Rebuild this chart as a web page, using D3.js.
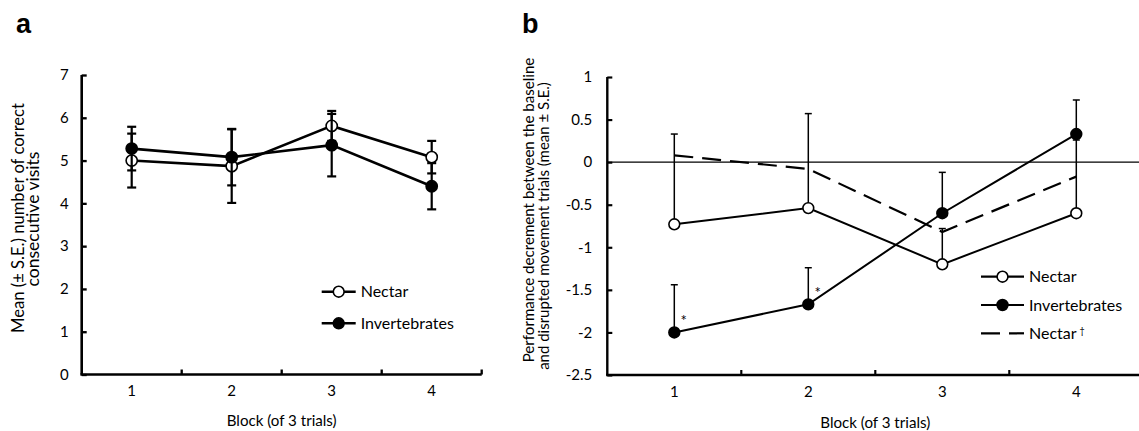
<!DOCTYPE html>
<html><head><meta charset="utf-8">
<script src="https://cdn.jsdelivr.net/npm/d3@7"></script>
<style>
body{margin:0;background:#fff;}
svg text{font-family:Lato,"Open Sans",sans-serif;fill:#000;}
</style></head>
<body><svg id="c" width="1139" height="431"></svg>
<script>
// ---------- data ----------
const blocks = ["1", "2", "3", "4"];
// panel a
const yTicksA = [0, 1, 2, 3, 4, 5, 6, 7];
const nectarA = [5.00, 4.87, 5.81, 5.08];
const nectarA_se = [0.63, 0.86, 0.35, 0.38];
const invertA = [5.28, 5.08, 5.36, 4.40];
const invertA_se = [0.51, 0.66, 0.73, 0.54];
// panel b
const yTicksB = [1, 0.5, 0, -0.5, -1, -1.5, -2, -2.5];
const nectarB = [-0.73, -0.54, -1.20, -0.60];
const nectarB_se = [1.06, 1.11, 0.42, 0.86];
const invertB = [-2.00, -1.67, -0.60, 0.33];
const invertB_se = [0.56, 0.43, 0.48, 0.40];
const nectarDagger = [0.08, -0.08, -0.82, -0.17];
const signif = [true, true, false, false];

const svg = d3.select("#c");
const fits = [];

function fitText(sel, target) {
  sel.attr("data-fs0", parseFloat(sel.style("font-size")));
  fits.push([sel, target]);
  doFit(sel, target);
}
function doFit(sel, target) {
  const fs0 = +sel.attr("data-fs0");
  sel.style("font-size", fs0 + "px");
  const len = sel.node().getComputedTextLength();
  if (len > 0) sel.style("font-size", (fs0 * target / len) + "px");
}

function panel(cfg) {
  const g = svg.append("g");
  const x = d3.scaleBand().domain(blocks).range([cfg.x0, cfg.x1]);
  const y = d3.scaleLinear().domain(cfg.ydom).range([cfg.yb, cfg.yt]);
  const cx = d => x(d) + x.bandwidth() / 2;

  // y axis
  const ya = d3.axisLeft(y).tickValues(cfg.yticks).tickSize(-5).tickPadding(cfg.tpad)
    .tickFormat(d => String(d));
  const yg = g.append("g").attr("transform", `translate(${cfg.x0},0)`).call(ya);
  yg.select(".domain").attr("stroke-width", cfg.axw).attr("d", `M0,${cfg.yt}V${cfg.yb}`);
  yg.selectAll(".tick line").attr("stroke-width", cfg.axw * 0.9);
  yg.selectAll(".tick text").style("font-size", cfg.fs + "px");

  // x axis labels
  const xa = d3.axisBottom(x).tickSize(0).tickPadding(cfg.xpad);
  const xg = g.append("g").attr("transform", `translate(0,${cfg.yb})`).call(xa);
  xg.select(".domain").remove();
  xg.selectAll(".tick text").style("font-size", cfg.fs + "px");
  // x axis line
  g.append("line").attr("x1", cfg.x0 - cfg.axw / 2).attr("x2", cfg.x1)
    .attr("y1", cfg.yb).attr("y2", cfg.yb).attr("stroke", "#000").attr("stroke-width", cfg.axw);
  // boundary ticks (inward)
  g.selectAll(".bt").data(blocks).enter().append("line")
    .attr("x1", (d, i) => cfg.x0 + (i + 1) * x.step()).attr("x2", (d, i) => cfg.x0 + (i + 1) * x.step())
    .attr("y1", cfg.yb).attr("y2", cfg.yb - 5).attr("stroke", "#000").attr("stroke-width", cfg.axw * 0.9);

  // zero line
  if (cfg.zero) {
    g.append("line").attr("x1", cfg.x0).attr("x2", cfg.x1).attr("y1", y(0)).attr("y2", y(0))
      .attr("stroke", "#000").attr("stroke-width", 1.3);
  }

  // titles
  const xt = g.append("text").attr("x", (cfg.x0 + cfg.x0 + 4 * x.step()) / 2).attr("y", cfg.xtitleY)
    .attr("text-anchor", "middle").style("font-size", cfg.fs + "px").text("Block (of 3 trials)");
  fitText(xt, 110);
  cfg.ytitle.forEach((t, i) => {
    const tt = g.append("text").attr("transform", `translate(${cfg.ytitleX[i]},${cfg.ytitleY[i]}) rotate(-90)`)
      .attr("text-anchor", "middle").style("font-size", "15px").text(t);
    fitText(tt, cfg.ytitleW[i]);
  });

  g.append("text").attr("x", cfg.labX).attr("y", 33).text(cfg.label)
    .style("font-family", "'Liberation Sans',Arial,sans-serif").style("font-weight", "bold").style("font-size", "27px");

  return { g, x, y, cx };
}

function series(p, vals, se, opt) {
  const { g, y, cx } = p;
  const line = d3.line().x((d, i) => cx(blocks[i])).y(d => y(d));
  if (se) {
    const eb = g.append("g");
    vals.forEach((v, i) => {
      const xx = cx(blocks[i]);
      const top = y(v + se[i]);
      const bot = opt.both ? y(v - se[i]) : y(v);
      eb.append("line").attr("x1", xx).attr("x2", xx).attr("y1", top).attr("y2", bot)
        .attr("stroke", "#000").attr("stroke-width", opt.ebw);
      eb.append("line").attr("x1", xx - opt.cap).attr("x2", xx + opt.cap).attr("y1", top).attr("y2", top)
        .attr("stroke", "#000").attr("stroke-width", opt.ebw);
      if (opt.both) {
        eb.append("line").attr("x1", xx - opt.cap).attr("x2", xx + opt.cap).attr("y1", bot).attr("y2", bot)
          .attr("stroke", "#000").attr("stroke-width", opt.ebw);
      }
    });
  }
  g.append("path").datum(vals).attr("d", line).attr("fill", "none").attr("stroke", "#000")
    .attr("stroke-width", opt.lw).attr("stroke-dasharray", opt.dash || null);
  if (opt.marker) {
    g.selectAll(null).data(vals).enter().append("circle")
      .attr("cx", (d, i) => cx(blocks[i])).attr("cy", d => y(d)).attr("r", opt.r)
      .attr("fill", opt.marker === "open" ? "#fff" : "#000").attr("stroke", "#000").attr("stroke-width", 1.6);
  }
}

function legend(g, items, lx, ly0, dy, fs, lw, r) {
  items.forEach((it, i) => {
    const yy = ly0 + i * dy;
    const w = it.w || 43;
    const lg = g.append("g");
    if (it.dash) {
      lg.append("line").attr("x1", lx).attr("x2", lx + w).attr("y1", yy).attr("y2", yy)
        .attr("stroke", "#000").attr("stroke-width", lw).attr("stroke-dasharray", "19,9");
    } else {
      lg.append("line").attr("x1", lx).attr("x2", lx + w).attr("y1", yy).attr("y2", yy)
        .attr("stroke", "#000").attr("stroke-width", lw);
      lg.append("circle").attr("cx", lx + w / 2).attr("cy", yy).attr("r", r)
        .attr("fill", it.marker === "open" ? "#fff" : "#000").attr("stroke", "#000").attr("stroke-width", 1.6);
    }
    const t = lg.append("text").attr("x", lx + w + 5).attr("y", yy).attr("dy", "0.35em")
      .style("font-size", fs + "px").text(it.name);
    if (it.sup) t.append("tspan").attr("dy", "-0.6em").attr("dx", "3").style("font-size", "9px").text(it.sup);
  });
}

// ---------- panel a ----------
const pa = panel({
  x0: 81.7, x1: 481.7, yb: 374.5, yt: 75, ydom: [0, 7], yticks: yTicksA,
  axw: 2.6, fs: 15, tpad: 13, xpad: 11, xtitleY: 426, label: "a", labX: 16,
  ytitle: ["Mean (\u00b1 S.E.) number of correct", "consecutive visits"],
  ytitleW: [230, 135], ytitleX: [24, 38.5], ytitleY: [218, 219]
});
series(pa, nectarA, nectarA_se, { both: true, ebw: 2.2, cap: 4.5, lw: 2.6, marker: "open", r: 5.6 });
series(pa, invertA, invertA_se, { both: true, ebw: 2.2, cap: 4.5, lw: 2.6, marker: "filled", r: 5.6 });
legend(pa.g, [{ name: "Nectar", marker: "open", w: 34 }, { name: "Invertebrates", marker: "filled", w: 34 }],
  321.7, 291.7, 31.6, 16, 2.6, 5.4);

// ---------- panel b ----------
const pb = panel({
  x0: 607.3, x1: 1143.3, yb: 375, yt: 77, ydom: [-2.5, 1], yticks: yTicksB,
  axw: 2.4, fs: 15, tpad: 15, xpad: 11, xtitleY: 428, label: "b", labX: 522, zero: true,
  ytitle: ["Performance decrement between the baseline", "and disrupted movement trials (mean \u00b1 S.E.)"],
  ytitleW: [305, 288], ytitleX: [534, 549], ytitleY: [210, 226]
});
series(pb, nectarDagger, null, { lw: 2.2, dash: "19,9" });
series(pb, nectarB, nectarB_se, { both: false, ebw: 1.5, cap: 3.5, lw: 2.0, marker: "open", r: 5.4 });
series(pb, invertB, invertB_se, { both: false, ebw: 1.5, cap: 3.5, lw: 2.0, marker: "filled", r: 5.4 });
// significance asterisks
pb.g.selectAll(".ast").data(invertB.map((v, i) => ({ v, i })).filter(d => signif[d.i])).enter().append("text")
  .attr("x", d => pb.cx(blocks[d.i]) + 9.5).attr("y", d => pb.y(d.v) - 6).attr("text-anchor", "middle")
  .style("font-size", "15px").text("*");
legend(pb.g, [{ name: "Nectar", marker: "open" }, { name: "Invertebrates", marker: "filled" },
  { name: "Nectar", dash: true, sup: "\u2020" }], 981, 276.7, 28.3, 16, 2.2, 5.4);

if (document.fonts && document.fonts.ready) {
  document.fonts.ready.then(() => fits.forEach(([s, t]) => doFit(s, t)));
}
</script></body></html>
